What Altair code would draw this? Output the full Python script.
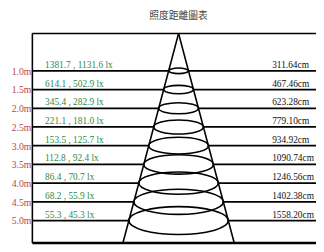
import altair as alt
import pandas as pd

# ---- data ----
title_text = "照度距離圖表"
distances = [1.0, 1.5, 2.0, 2.5, 3.0, 3.5, 4.0, 4.5, 5.0]
dist_labels = ["1.0m", "1.5m", "2.0m", "2.5m", "3.0m", "3.5m", "4.0m", "4.5m", "5.0m"]
lux_labels = [
    "1381.7 , 1131.6 lx", "614.1 , 502.9 lx", "345.4 , 282.9 lx",
    "221.1 , 181.0 lx", "153.5 , 125.7 lx", "112.8 , 92.4 lx",
    "86.4 , 70.7 lx", "68.2 , 55.9 lx", "55.3 , 45.3 lx",
]
diam_labels = [
    "311.64cm", "467.46cm", "623.28cm", "779.10cm", "934.92cm",
    "1090.74cm", "1246.56cm", "1402.38cm", "1558.20cm",
]

# ---- layout constants ----
W, H = 291, 215
DEPTH = 5.6          # metres shown from top to bottom of the frame
CX = 150             # cone axis position (x units)
SLOPE = 10.2         # cone half-width per metre (x units)
ASPECT = 0.28        # ellipse vertical/horizontal ratio
k = 0.5523
b = ASPECT
ellipse_path = (
    f"M 1 0 C 1 {b*k:.4f} {k} {b} 0 {b} "
    f"C {-k} {b} -1 {b*k:.4f} -1 0 "
    f"C -1 {-b*k:.4f} {-k} {-b} 0 {-b} "
    f"C {k} {-b} 1 {-b*k:.4f} 1 0 Z"
)

xs = alt.Scale(domain=[0, W], nice=False, zero=False)
ys = alt.Scale(domain=[0, DEPTH], reverse=True, nice=False, zero=False)

df = pd.DataFrame({"d": distances, "dist": dist_labels, "lux": lux_labels, "diam": diam_labels})
base = alt.Chart(df)

SERIF = "Liberation Serif"

lines = base.transform_calculate(x0="0", x1=str(W)).mark_rule(
    color="black", strokeWidth=1.8
).encode(
    y=alt.Y("d:Q", scale=ys, axis=None),
    x=alt.X("x0:Q", scale=xs, axis=None),
    x2="x1:Q",
)

cone_df = pd.DataFrame({"d": [0.0, DEPTH]})
cone_fill = alt.Chart(cone_df).transform_calculate(
    xl=f"{CX} - {SLOPE} * datum.d", xr=f"{CX} + {SLOPE} * datum.d"
).mark_area(color="white", orient="horizontal", opacity=1).encode(
    y=alt.Y("d:Q", scale=ys, axis=None),
    x=alt.X("xl:Q", scale=xs, axis=None),
    x2="xr:Q",
)

edge_df = pd.DataFrame({"side": [-1, 1]})
edges = alt.Chart(edge_df).transform_calculate(
    xa=str(CX), ya="0", xb=f"{CX} + datum.side * {SLOPE} * {DEPTH}", yb=str(DEPTH)
).mark_rule(color="black", strokeWidth=1.6).encode(
    x=alt.X("xa:Q", scale=xs, axis=None),
    y=alt.Y("ya:Q", scale=ys, axis=None),
    x2="xb:Q",
    y2="yb:Q",
)

ellipses = base.transform_calculate(
    cx=str(CX), sz=f"4 * pow({SLOPE} * datum.d, 2)"
).mark_point(
    shape=ellipse_path, filled=False, stroke="black", strokeWidth=1.6, opacity=1
).encode(
    x=alt.X("cx:Q", scale=xs, axis=None),
    y=alt.Y("d:Q", scale=ys, axis=None),
    size=alt.Size("sz:Q", scale=None, legend=None),
)

box_df = pd.DataFrame({
    "xa": [0, 0, 0], "xb": [0, W, W],
    "ya": [0, 0, DEPTH], "yb": [DEPTH, 0, DEPTH],
    "w": [1.6, 1.6, 2.4],
})
box = alt.Chart(box_df).mark_rule(color="black").encode(
    x=alt.X("xa:Q", scale=xs, axis=None),
    x2="xb:Q",
    y=alt.Y("ya:Q", scale=ys, axis=None),
    y2="yb:Q",
    strokeWidth=alt.StrokeWidth("w:Q", scale=None, legend=None),
)

red_text = base.transform_calculate(x0="0").mark_text(
    align="right", baseline="middle", dx=-1, dy=1,
    font=SERIF, fontSize=10, color="#b3474a"
).encode(
    x=alt.X("x0:Q", scale=xs, axis=None),
    y=alt.Y("d:Q", scale=ys, axis=None),
    text="dist:N",
)

green_text = base.transform_calculate(x0="13").mark_text(
    align="left", baseline="alphabetic", dy=-3,
    font=SERIF, fontSize=9.6, color="#2e8a48"
).encode(
    x=alt.X("x0:Q", scale=xs, axis=None),
    y=alt.Y("d:Q", scale=ys, axis=None),
    text="lux:N",
)

right_text = base.transform_calculate(x0="246").mark_text(
    align="left", baseline="alphabetic", dy=-3,
    font=SERIF, fontSize=9.6, color="#111111"
).encode(
    x=alt.X("x0:Q", scale=xs, axis=None),
    y=alt.Y("d:Q", scale=ys, axis=None),
    text="diam:N",
)

title = alt.Chart(pd.DataFrame({"t": [title_text]})).transform_calculate(
    x0=str(CX)
).mark_text(
    align="center", baseline="middle", font="Noto Sans CJK TC",
    fontSize=10, color="#444444"
).encode(
    x=alt.X("x0:Q", scale=xs, axis=None),
    y=alt.value(-18),
    text="t:N",
)

chart = alt.layer(
    lines, cone_fill, edges, ellipses, box, red_text, green_text, right_text, title
).properties(
    width=W, height=H,
    padding={"left": 25, "top": 23, "right": 0, "bottom": 0},
    autosize=alt.AutoSizeParams(type="none"),
).configure_view(stroke=None)

chart.save("out.html", embed_options={"renderer": "svg", "actions": False})
